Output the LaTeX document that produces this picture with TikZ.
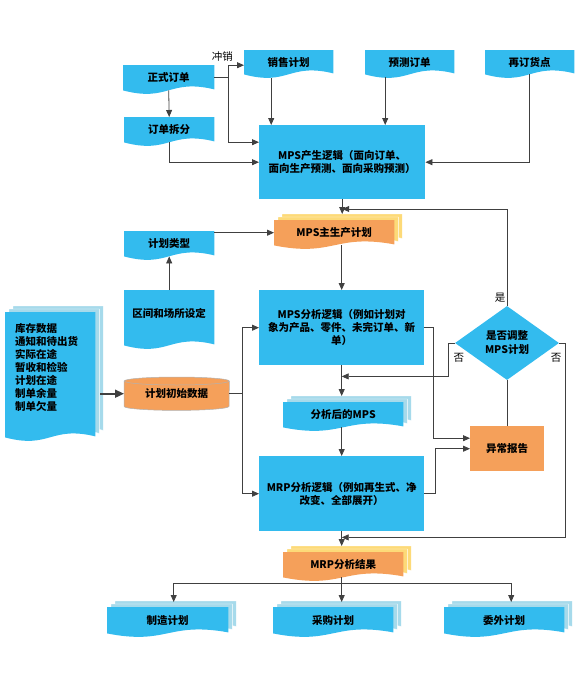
\documentclass[tikz,border=0pt]{standalone}
\usepackage{fontspec}
\setmainfont{Noto Sans CJK SC}
\usetikzlibrary{shapes.geometric,calc,backgrounds,arrows.meta}
\definecolor{sky}{HTML}{33BBEE}
\definecolor{lsky}{HTML}{A6DAEB}
\definecolor{org}{HTML}{F5A05A}
\definecolor{ylw}{HTML}{FDDA78}
\definecolor{lc}{HTML}{404040}
% name, dx, dy, extra drop, colour
\newcommand\docfill[5]{\fill[#5] ($(#1.north west)+(#2,#3)$) -- ($(#1.north east)+(#2,#3)$) -- ($(#1.south east)+(#2,#3+#4-1)$) .. controls ($(#1.south)+(#2,#3+#4-12)$) and ($(#1.south)+(#2,#3+#4+12)$) .. ($(#1.south west)+(#2,#3+#4)$) -- cycle;}
\newcommand\onedoc[3]{\docfill{#1}{0}{0}{#3}{#2}}
\newcommand\multidoc[4]{\docfill{#1}{8}{-6}{#4}{#3,draw=white,line width=0.4pt}\docfill{#1}{4}{-3}{#4}{#3,draw=white,line width=0.4pt}\docfill{#1}{0}{0}{#4}{#2}}
\begin{document}
\begin{tikzpicture}[x=1pt,y=-1pt,
  font=\fontsize{10.5}{13}\selectfont\bfseries,
  bx/.style={anchor=north west, inner sep=0pt, align=center},
  ln/.style={draw=lc, line width=0.8pt},
  arr/.style={ln, -{Triangle[width=6pt,length=7pt]}},
  lbl/.style={inner sep=0pt, font=\fontsize{10.5}{12}\selectfont\mdseries}]
\useasboundingbox (0,0) rectangle (580,686);

% ---------- nodes ----------
\node[bx,minimum width=91pt,minimum height=25pt] (zsdd) at (123,65) {正式订单};
\node[bx,minimum width=90pt,minimum height=25pt] (ddcf) at (124,117) {订单拆分};
\node[bx,minimum width=89pt,minimum height=24pt] (xsjh) at (244,50) {销售计划};
\node[bx,minimum width=89pt,minimum height=24pt] (ycdd) at (365,50) {预测订单};
\node[bx,minimum width=89pt,minimum height=24pt] (zdhd) at (485,50) {再订货点};
\node[bx,fill=sky,minimum width=166pt,minimum height=74pt] (mpscs) at (259,125) {MPS产生逻辑（面向订单、\\面向生产预测、面向采购预测）};
\node[bx,minimum width=120pt,minimum height=25pt] (zsc) at (274,220) {MPS主生产计划};
\node[bx,minimum width=90pt,minimum height=25pt] (jhlx) at (124,231) {计划类型};
\node[bx,minimum width=90pt,minimum height=46pt] (qjcs) at (124,290) {区间和场所设定};
\node[bx,align=left,text width=70pt,minimum width=90pt,minimum height=110pt] (kcsj) at (5,312) {库存数据\\通知和待出货\\实际在途\\暂收和检验\\计划在途\\制单余量\\制单欠量};
\node[bx,minimum width=105pt,minimum height=33pt] (csj) at (124,377) {计划初始数据};
\node[bx,fill=sky,minimum width=165pt,minimum height=75pt] (mpsfx) at (259,290) {MPS分析逻辑（例如计划对\\象为产品、零件、未完订单、新\\单）};
\node[diamond,fill=sky,minimum width=104pt,minimum height=74pt,inner sep=0pt,align=center,font=\fontsize{10.5}{14}\selectfont\bfseries] (sftz) at (507,343) {是否调整\\MPS计划};
\node[bx,minimum width=120pt,minimum height=25pt] (fxh) at (283,402) {分析后的MPS};
\node[bx,fill=org,minimum width=74pt,minimum height=45pt] (ycbg) at (470,426) {异常报告};
\node[bx,fill=sky,minimum width=165pt,minimum height=75pt] (mrp) at (259,456) {MRP分析逻辑（例如再生式、净\\改变、全部展开）};
\node[bx,minimum width=120pt,minimum height=25pt] (mrpjg) at (283,552) {MRP分析结果};
\node[bx,minimum width=121pt,minimum height=26pt] (zzjh) at (107,607) {制造计划};
\node[bx,minimum width=120pt,minimum height=26pt] (cgjh) at (273,607) {采购计划};
\node[bx,minimum width=120pt,minimum height=26pt] (wwjh) at (444,607) {委外计划};

% ---------- shapes behind ----------
\begin{pgfonlayer}{background}
\onedoc{zsdd}{sky}{0}
\onedoc{ddcf}{sky}{0}
\onedoc{xsjh}{sky}{0}
\onedoc{ycdd}{sky}{0}
\onedoc{zdhd}{sky}{0}
\onedoc{jhlx}{sky}{0}
\onedoc{qjcs}{sky}{9}
\multidoc{zsc}{org}{ylw}{0}
\multidoc{kcsj}{sky}{lsky}{15}
\multidoc{fxh}{sky}{lsky}{0}
\multidoc{mrpjg}{org}{ylw}{0}
\multidoc{zzjh}{sky}{lsky}{0}
\multidoc{cgjh}{sky}{lsky}{0}
\multidoc{wwjh}{sky}{lsky}{0}
\filldraw[fill=org,draw=gray!60,line width=0.5pt] ($(csj.north west)+(0,4)$) -- ($(csj.south west)+(0,-4)$) arc[start angle=180,end angle=0,x radius=52.5,y radius=4] -- ($(csj.north east)+(0,4)$) -- cycle;
\filldraw[fill=org,draw=gray!60,line width=0.5pt] ($(csj.north)+(0,4)$) ellipse[x radius=52.5,y radius=4];
\end{pgfonlayer}

% ---------- connectors ----------
\draw[arr] (zsdd.south) -- (ddcf.north);
\coordinate (j1) at ($(zsdd.east)+(14,0)$);
\draw[ln] (zsdd.east) -- (j1);
\draw[arr] (j1) |- ($(xsjh.west)+(0,3)$);
\draw[arr] (j1) |- ($(mpscs.west)+(0,-20)$);
\node[lbl] (cx) at ($(j1)+(-6,-21)$) {冲销};
\draw[arr] (ddcf.south) |- (mpscs.west);
\coordinate (a1) at ($(xsjh.south)+(-17.5,4)$);
\draw[arr] (a1) -- (a1 |- mpscs.north);
\coordinate (a2) at ($(ycdd.south)+(-24.5,3)$);
\draw[arr] (a2) -- (a2 |- mpscs.north);
\draw[arr] (zdhd.south) |- (mpscs.east);

\coordinate (zt) at ($(zsc.north)+(8,-6)$);
\draw[arr] (mpscs.south) -- (mpscs.south |- zt);
\coordinate (fb) at ($(zt)+(0,-5)$);
\draw[arr] (sftz.north) |- (fb);
\node[lbl] (shi) at ($(sftz.north)+(-7,-8)$) {是};

\draw[arr] (jhlx.east |- zsc.west) -- (zsc.west);
\draw[arr] (qjcs.north) -- (jhlx.south);
\draw[arr] (zsc.south -| mpsfx.north) -- (mpsfx.north);

\draw[lc,line width=1.6pt,-{Triangle[width=8pt,length=9pt]}] ($(kcsj.east |- csj.west)+(5,0)$) -- (csj.west);
\coordinate (v) at ($(csj.east)+(13,0)$);
\draw[ln] (csj.east) -- (v);
\draw[arr] (v) |- (mpsfx.west);
\draw[arr] (v) |- (mrp.west);

\draw[arr] (mpsfx.south) -- ($(mpsfx.south |- fxh.north)+(0,-6)$);
\draw[arr] (fxh.south -| mrp.north) -- (mrp.north);

\coordinate (r1) at ($(mpsfx.east)+(9,0)$);
\draw[arr] (mpsfx.east) -- (r1) |- ($(ycbg.west)+(0,-10.5)$);
\coordinate (r2) at ($(mrp.east)+(11,0)$);
\draw[arr] (mrp.east) -- (r2) |- (ycbg.west);

\coordinate (n1) at ($(mpsfx.south)+(0,11)$);
\draw[arr] (sftz.west) -- ++(-6,0) |- (n1);
\node[lbl] (fou1) at ($(sftz.west)+(4,15)$) {否};
\coordinate (n2) at ($(mrp.south)+(0,6)$);
\draw[arr] (sftz.east) -- ++(6,0) |- (n2);
\node[lbl] (fou2) at ($(sftz.east)+(-3,15)$) {否};
\draw[ln] (sftz.south) -- (sftz.south |- ycbg.north);

\draw[arr] (mrp.south) -- ($(mrp.south |- mrpjg.north)+(0,-6)$);
\coordinate (b0) at ($(mrpjg.south -| mrp.south)+(0,6)$);
\draw[ln] (mrpjg.south -| mrp.south) -- (b0);
\coordinate (e1) at ($(zzjh.north)+(6,-5)$);
\coordinate (e2) at ($(cgjh.north)+(8.5,-5)$);
\coordinate (e3) at ($(wwjh.north)+(7,-5)$);
\draw[ln] (b0 -| e1) -- (b0 -| e3);
\draw[arr] (b0 -| e1) -- (e1);
\draw[arr] (b0 -| e2) -- (e2);
\draw[arr] (b0 -| e3) -- (e3);
\end{tikzpicture}
\end{document}
